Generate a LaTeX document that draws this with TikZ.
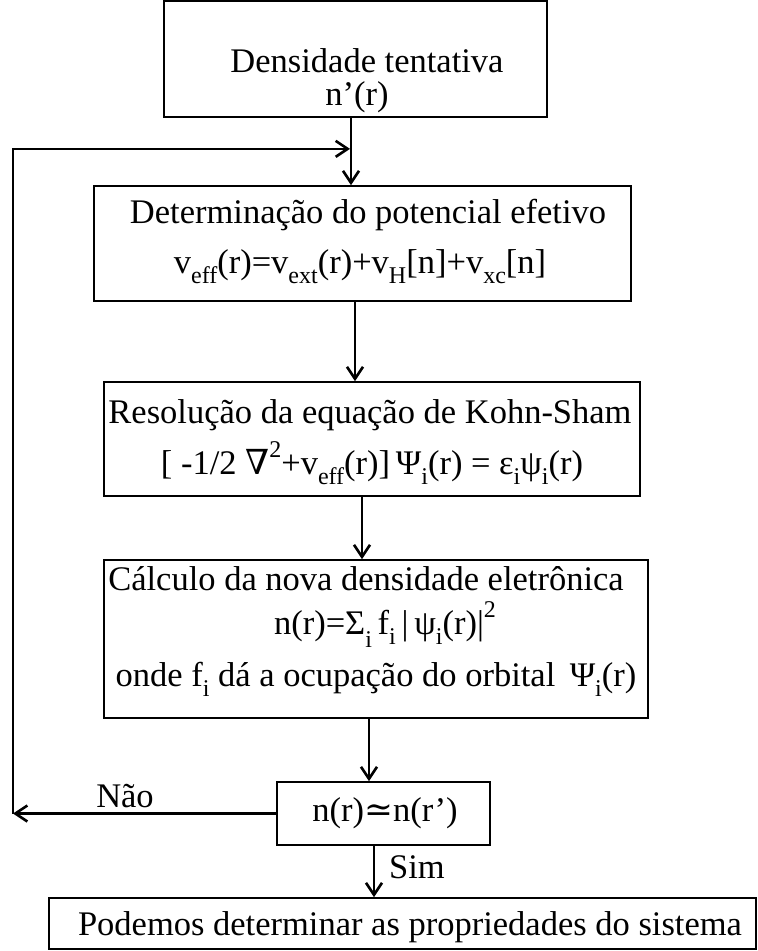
\documentclass[tikz,border=0pt]{standalone}
\usepackage{fontspec}
\setmainfont{Liberation Serif}
\newfontfamily\sym{DejaVu Serif}
\usetikzlibrary{arrows.meta}
\newcommand\sbs[1]{\raisebox{-10pt}{\fontsize{24}{24}\selectfont #1}}
\newcommand\sps[1]{\raisebox{17pt}{\fontsize{24}{24}\selectfont #1}}
\begin{document}
\begin{tikzpicture}[x=1pt,y=-1pt,
  box/.style={draw, line width=1.7pt, inner sep=0pt, rectangle},
  txt/.style={inner sep=0pt, anchor=base, font=\fontsize{34.5}{40}\selectfont},
  arr/.style={line width=2.6pt, -{Straight Barb[length=12pt,width=16pt]}}]
\fill[white] (0,0) rectangle (758,951);
\useasboundingbox (0,0) rectangle (758,951);
% boxes
\node[box, minimum width=383pt, minimum height=116pt] (box1) at (355.5,59) {};
\node[box, minimum width=537pt, minimum height=115pt] (box2) at (362.5,243.5) {};
\node[box, minimum width=536pt, minimum height=114pt] (box3) at (372,439) {};
\node[box, minimum width=544pt, minimum height=158pt] (box4) at (376,639) {};
\node[box, minimum width=213pt, minimum height=63pt] (box5) at (383.5,813.5) {};
\node[box, minimum width=707pt, minimum height=51pt] (box6) at (402.5,923.5) {};
% texts
\node[txt] (t1a) at (367,72) {Densidade tentativa};
\node[txt] (t1b) at (357,105) {n’(r)};
\node[txt] (t2a) at (368,223) {Determinação do potencial efetivo};
\node[txt] (t2b) at (360,273) {v\sbs{eff}(r)=v\sbs{ext}(r)+v\sbs{H}[n]+v\sbs{xc}[n]};
\node[txt] (t3a) at (370,423) {Resolução da equação de Kohn-Sham};
\node[txt] (t3b) at (372,474) {[ -1/2 {\sym ∇}\sps{2}+v\sbs{eff}(r)]\,Ψ\sbs{i}(r) = ε\sbs{i}ψ\sbs{i}(r)};
\node[txt] (t4a) at (366,590) {Cálculo da nova densidade eletrônica};
\node[txt] (t4b) at (385,634) {n(r)=Σ\raisebox{-13pt}{\fontsize{24}{24}\selectfont i}\,f\sbs{i}\,|\,ψ\sbs{i}(r)|\sps{2}};
\node[txt] (t4c) at (376,686) {onde f\sbs{i} dá a ocupação do orbital \,Ψ\sbs{i}(r)};
\node[txt] (t5) at (385,821) {n(r){\sym ≃}n(r’)};
\node[txt] (t6) at (410,935) {Podemos determinar as propriedades do sistema};
\node[txt] (nao) at (125,807) {Não};
\node[txt] (sim) at (417,878) {Sim};
% connectors
\draw[arr] ([xshift=-4.5pt]box1.south) coordinate (j1) -- (j1 |- box2.north);
\draw[arr] ([xshift=-7.5pt]box2.south) coordinate (j2) -- (j2 |- box3.north);
\draw[arr] ([xshift=-10pt]box3.south) coordinate (j3) -- (j3 |- box4.north);
\draw[arr] ([xshift=-7pt]box4.south) coordinate (j4) -- (j4 |- box5.north);
\draw[arr] ([xshift=-9.5pt]box5.south) coordinate (j5) -- (j5 |- box6.north);
\coordinate (fb) at ([yshift=-31pt]j1);
\coordinate (corner) at (box5.west -| 13,0);
\draw[arr] (box5.west) -- (corner);
\draw[arr] (corner) |- ([xshift=-1pt]fb);
\end{tikzpicture}
\end{document}
